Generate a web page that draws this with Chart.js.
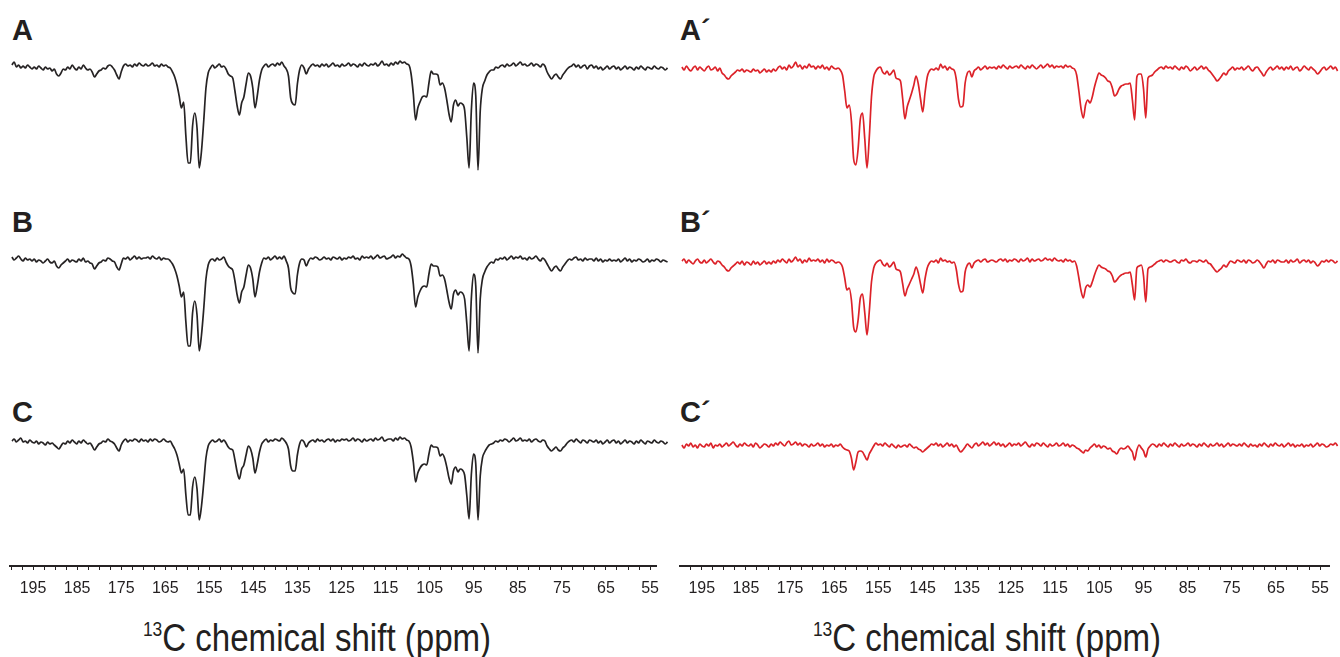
<!DOCTYPE html>
<html>
<head>
<meta charset="utf-8">
<script src="https://cdn.jsdelivr.net/npm/chart.js"></script>
<style>
html,body{margin:0;padding:0;background:#fff;}
body{width:1340px;height:657px;position:relative;overflow:hidden;}
canvas{position:absolute;}
.lbl{position:absolute;font-family:'Liberation Sans',Arial,sans-serif;font-weight:bold;font-size:29px;color:#231f20;line-height:1;}
.ttl{position:absolute;font-family:'Liberation Sans',Arial,sans-serif;font-size:38px;color:#231f20;line-height:1;white-space:nowrap;text-align:center;width:500px;transform:scaleX(0.87);transform-origin:50% 50%;}
.ttl sup{font-size:20px;vertical-align:0;position:relative;top:-15px;}
</style>
</head>
<body>
<div class="lbl" style="left:12px;top:16px">A</div>
<div class="lbl" style="left:12px;top:208px">B</div>
<div class="lbl" style="left:12px;top:398px">C</div>
<div class="lbl" style="left:680px;top:16px">A´</div>
<div class="lbl" style="left:680px;top:208px">B´</div>
<div class="lbl" style="left:680px;top:398px">C´</div>
<div class="ttl" style="left:67px;top:619px"><sup>13</sup>C chemical shift (ppm)</div>
<div class="ttl" style="left:737px;top:619px"><sup>13</sup>C chemical shift (ppm)</div>

<canvas id="cA" width="670" height="160" style="left:0;top:26px"></canvas>
<canvas id="cB" width="670" height="160" style="left:0;top:219px"></canvas>
<canvas id="cC" width="670" height="160" style="left:0;top:401px"></canvas>
<canvas id="cA2" width="670" height="160" style="left:670px;top:29px"></canvas>
<canvas id="cB2" width="670" height="160" style="left:670px;top:222px"></canvas>
<canvas id="cC2" width="670" height="160" style="left:670px;top:406px"></canvas>
<canvas id="axL" width="670" height="60" style="left:0;top:536px"></canvas>
<canvas id="axR" width="670" height="60" style="left:670px;top:536px"></canvas>

<script>
// chemical shift sampling (ppm)
const ppm = [
199.5,199,198.5,198,197.5,197,196.5,196,195.5,195,
194.5,194,193.5,193,192.5,192,191.5,191,190.5,190,
189.5,189,188.5,188,187.5,187,186.5,186,185.5,185,
184.5,184,183.5,183,182.5,182,181.5,181,180.5,180,
179.5,179,178.5,178,177.5,177,176.5,176,175.5,175,
174.5,174,173.5,173,172.5,172,171.5,171,170.5,170,
169.5,169,168.5,168,167.5,167,166.5,166,165.5,165,
164.5,164,163.5,163,162.5,162,161.5,161,160.5,160,
159.5,159,158.5,158,157.5,157,156.5,156,155.5,155,
154.5,154,153.5,153,152.5,152,151.5,151,150.5,150,
149.5,149,148.5,148,147.5,147,146.5,146,145.5,145,
144.5,144,143.5,143,142.5,142,141.5,141,140.5,140,
139.5,139,138.5,138,137.5,137,136.5,136,135.5,135,
134.5,134,133.5,133,132.5,132,131.5,131,130.5,130,
129.5,129,128.5,128,127.5,127,126.5,126,125.5,125,
124.5,124,123.5,123,122.5,122,121.5,121,120.5,120,
119.5,119,118.5,118,117.5,117,116.5,116,115.5,115,
114.5,114,113.5,113,112.5,112,111.5,111,110.5,110,
109.5,109,108.5,108,107.5,107,106.5,106,105.5,105,
104.5,104,103.5,103,102.5,102,101.5,101,100.5,100,
99.5,99,98.5,98,97.5,97,96.5,96,95.5,95,
94.5,94,93.5,93,92.5,92,91.5,91,90.5,90,
89.5,89,88.5,88,87.5,87,86.5,86,85.5,85,
84.5,84,83.5,83,82.5,82,81.5,81,80.5,80,
79.5,79,78.5,78,77.5,77,76.5,76,75.5,75,
74.5,74,73.5,73,72.5,72,71.5,71,70.5,70,
69.5,69,68.5,68,67.5,67,66.5,66,65.5,65,
64.5,64,63.5,63,62.5,62,61.5,61,60.5,60,
59.5,59,58.5,58,57.5,57,56.5,56,55.5,55,
54.5,54,53.5,53,52.5];

// spectrum A (intensity, arbitrary units, baseline 0)
const specA = [
1,4,-1,1,-2,0,-2,1,-1,-3,
-1,-3,0,-2,-4,-1,-3,-2,-5,-3,
-8,-10,-7,-3,-4,-1,-3,1,-2,-4,
-1,-3,1,-2,-4,-3,-6,-11,-8,-5,
-4,-2,-3,0,1,-1,-4,-9,-13,-6,
0,2,0,1,-1,2,0,3,1,0,
2,0,1,3,0,1,-1,2,0,1,
-1,-2,-6,-11,-19,-30,-42,-36,-70,-97,
-97,-60,-47,-62,-102,-85,-55,-22,-7,-2,
1,-2,0,2,-1,0,-3,-8,-10,-12,
-25,-40,-49,-37,-31,-18,-7,-10,-22,-42,
-30,-14,-4,0,2,-1,1,2,0,3,
1,4,0,-3,-10,-32,-38,-39,-18,-4,
1,-2,-8,-3,0,2,0,1,-1,2,
0,2,-1,1,3,0,1,-1,2,0,
1,3,0,2,1,-1,2,0,3,1,
0,2,1,3,0,2,5,1,2,0,
3,1,4,2,5,3,4,2,1,-8,
-28,-54,-42,-36,-31,-30,-31,-17,-5,-8,
-8,-9,-19,-17,-22,-34,-48,-56,-39,-34,
-40,-37,-38,-44,-72,-102,-45,-17,-30,-104,
-45,-22,-15,-9,-6,-4,-4,-1,-2,0,
1,-1,2,0,1,3,0,2,4,1,
2,0,1,3,0,2,1,-1,2,0,
-6,-10,-13,-10,-8,-11,-13,-9,-6,-3,
-1,0,2,-1,1,-2,0,1,-3,0,
1,-2,0,-3,-1,-4,-2,0,-3,-1,
0,-3,-1,-4,-2,0,-3,-1,-2,-4,
-1,-3,0,-2,-4,-1,-2,-3,0,-2,
-3,-1,-2,-4,-2];

const specB = [
2,-1,1,3,0,-2,1,-1,0,-2,
0,-3,-1,-2,-4,-2,0,-3,-4,-2,
-7,-9,-6,-4,-2,0,-3,-1,-2,-3,
0,-2,1,-3,-2,-4,-5,-10,-7,-4,
-3,-1,-2,1,0,-2,-3,-8,-11,-5,
1,0,2,-1,1,3,0,2,0,1,
1,2,0,3,1,0,2,-1,1,0,
0,-2,-5,-10,-17,-27,-38,-33,-63,-87,
-87,-54,-42,-56,-92,-76,-50,-20,-6,-1,
0,-2,1,-1,0,2,-3,-7,-9,-11,
-22,-36,-44,-33,-28,-16,-6,-9,-20,-38,
-27,-13,-4,1,0,2,-1,1,3,0,
2,0,3,-2,-9,-29,-34,-35,-16,-4,
0,-1,-7,-2,1,0,2,1,-1,0,
2,0,1,-1,2,1,0,2,-1,1,
0,2,1,3,0,1,-1,3,1,2,
1,3,0,2,4,1,2,3,0,1,
2,4,1,3,2,5,3,1,0,-7,
-25,-48,-38,-32,-28,-27,-28,-15,-5,-7,
-7,-8,-17,-16,-20,-31,-43,-50,-35,-31,
-36,-33,-34,-40,-65,-92,-40,-15,-27,-94,
-40,-20,-13,-8,-5,-3,-4,0,-1,1,
0,2,-1,1,3,0,2,1,3,0,
1,-1,2,0,1,3,0,-2,1,-1,
-5,-9,-12,-9,-7,-10,-12,-8,-5,-2,
0,-1,1,2,-1,0,-2,1,-1,0,
0,-2,1,-2,0,-3,-1,-2,0,-2,
-1,-2,0,-3,-1,1,-2,0,-3,-1,
-2,0,-1,-3,-2,0,-3,-1,-2,0,
-1,-3,-1,-2,-3];

const specC = [
0,2,-1,1,3,-1,0,-2,1,-1,
-2,0,-3,-1,-2,-4,-1,-3,-2,-4,
-6,-8,-5,-2,-3,0,-2,1,-1,-3,
0,-2,1,-1,-3,-2,-5,-9,-6,-3,
-2,0,-1,2,0,-1,-3,-7,-10,-4,
0,2,-1,1,0,2,1,-1,2,0,
1,-1,2,0,2,1,-1,0,2,0,
-1,0,-4,-8,-14,-23,-32,-28,-54,-74,
-74,-46,-36,-48,-79,-65,-42,-17,-5,-1,
1,-1,0,2,-1,1,-2,-6,-8,-9,
-19,-31,-38,-28,-24,-14,-5,-8,-17,-32,
-23,-11,-3,0,2,-1,1,0,2,1,
0,3,1,-2,-8,-25,-30,-30,-14,-3,
1,-1,-6,-2,0,1,-1,2,0,1,
-1,1,2,0,2,-1,1,0,2,1,
2,0,1,3,0,2,1,-1,2,0,
1,2,0,3,1,2,4,0,1,2,
2,0,3,1,4,2,3,1,0,-6,
-21,-41,-32,-27,-24,-23,-24,-13,-4,-6,
-6,-7,-15,-13,-17,-26,-37,-43,-30,-26,
-31,-28,-29,-34,-55,-78,-34,-13,-23,-79,
-35,-17,-11,-7,-4,-3,-2,0,-1,1,
0,2,1,-1,1,3,0,1,3,0,
1,0,2,-1,1,2,0,-1,1,0,
-5,-8,-10,-8,-6,-9,-10,-7,-5,-2,
0,1,-1,2,0,-2,1,0,-2,1,
0,-1,1,-2,0,-3,-1,1,-2,0,
1,-2,0,-3,-1,1,-2,0,-1,-3,
0,-2,1,-1,-3,0,-1,-2,1,-1,
-2,0,-1,-3,-1];

const specA2 = [
2,-1,3,0,-2,1,3,-1,2,0,
-2,1,3,-1,0,2,-2,1,-4,-6,
-9,-10,-7,-5,-3,-1,-2,0,-3,-1,
-2,-3,0,-2,-1,-4,-2,0,-3,-1,
-3,0,-2,1,3,0,2,-1,4,1,
3,7,2,4,0,3,1,5,2,3,
0,3,1,4,0,2,-1,3,1,0,
1,-1,-6,-22,-39,-36,-52,-90,-96,-80,
-50,-44,-70,-99,-69,-28,-8,-2,1,2,
-3,-5,-2,-6,-4,-1,-9,-10,-12,-30,
-50,-38,-31,-24,-16,-7,-15,-30,-43,-24,
-8,-2,0,-1,1,-1,5,1,3,-1,
2,0,-1,-10,-30,-38,-37,-14,-4,-2,
-8,-2,0,2,-1,1,3,0,2,1,
2,0,3,1,4,2,0,3,1,2,
3,1,4,2,0,3,1,4,2,0,
2,4,1,3,5,2,4,1,3,2,
3,1,4,2,3,1,0,-6,-22,-40,
-49,-36,-31,-34,-28,-18,-10,-4,-6,-7,
-9,-12,-13,-19,-27,-25,-20,-17,-16,-15,
-15,-14,-31,-51,-8,-5,-5,-20,-49,-9,
-7,-6,-3,-1,1,2,0,3,1,2,
0,3,1,-1,2,0,3,1,-2,0,
2,-1,1,3,0,2,-1,-3,-6,-9,
-12,-10,-7,-4,-6,-2,0,2,-1,1,
0,2,-1,1,3,0,-2,1,2,-1,
-4,-7,-3,0,2,-1,1,3,0,2,
-1,2,0,3,-1,1,2,-2,0,3,
1,-1,2,0,-2,-5,-3,0,2,-1,
1,3,0,2,-2];

const specB2 = [
1,3,-1,2,0,-2,1,3,0,-1,
2,-1,1,3,0,-2,1,0,-3,-5,
-8,-9,-6,-4,-2,0,-2,1,-3,0,
-1,-3,1,-2,0,-3,-1,1,-2,0,
-2,1,-1,2,0,3,1,-1,3,0,
2,5,1,3,-1,2,0,4,1,2,
1,3,0,2,-1,3,0,2,1,-1,
0,-1,-5,-16,-28,-26,-38,-65,-70,-58,
-36,-32,-51,-73,-50,-20,-6,-1,1,2,
-2,-4,-1,-5,-3,0,-7,-8,-10,-22,
-34,-27,-22,-17,-12,-5,-11,-22,-31,-17,
-6,-1,1,0,2,-1,4,1,2,0,
1,-1,0,-7,-22,-30,-29,-10,-3,-1,
-6,-1,1,2,0,2,3,0,1,2,
1,0,2,3,1,3,0,2,1,3,
2,0,3,1,2,4,0,3,1,2,
3,1,2,4,2,3,1,4,2,1,
2,0,3,1,2,0,1,-4,-16,-29,
-36,-26,-23,-25,-20,-13,-7,-3,-5,-6,
-7,-9,-10,-14,-20,-18,-15,-13,-12,-11,
-11,-10,-23,-38,-6,-4,-3,-14,-40,-7,
-5,-4,-2,0,1,2,0,2,1,0,
1,2,0,-1,2,1,3,0,-1,1,
1,0,2,1,0,2,-1,-2,-5,-8,
-10,-8,-6,-3,-5,-2,1,0,-1,2,
1,0,2,-1,2,1,-1,0,2,0,
-3,-6,-2,1,0,2,-1,2,1,0,
0,2,-1,2,0,1,3,-1,1,2,
0,2,-1,1,-1,-4,-2,1,0,2,
0,2,1,-1,1];

const specC2 = [
1,-2,2,0,3,-1,1,-2,2,0,
-1,2,0,3,-2,1,0,2,-1,1,
3,0,2,4,1,-1,2,0,3,1,
0,2,-1,3,1,-2,0,2,1,-1,
2,0,3,1,4,2,0,3,5,1,
2,4,1,3,0,2,1,-1,2,0,
1,3,0,2,-1,1,0,2,-1,1,
0,2,-1,-3,-4,-5,-12,-24,-16,-6,
-5,-6,-10,-14,-8,-4,0,3,1,2,
0,3,1,-1,2,0,-2,1,-1,0,
1,-1,2,0,-2,-1,-3,-4,-6,-4,
-2,0,2,1,3,0,2,-1,1,3,
0,2,-1,1,-3,-6,-4,-1,2,0,
-2,1,3,0,2,4,1,3,0,2,
4,1,3,0,2,-1,1,3,0,2,
1,3,0,2,4,1,-1,2,0,3,
2,0,3,1,-1,2,0,1,3,0,
1,3,0,2,-1,1,0,-2,-3,-5,
-7,-4,-5,-2,0,2,-1,1,-2,0,
-1,-3,-2,-5,-6,-8,-4,-2,-3,-2,
0,-3,-6,-14,-4,1,-2,-5,-11,-3,
0,2,1,-1,2,0,3,1,-1,2,
0,3,1,-1,2,0,1,3,0,2,
1,-1,2,0,3,1,-1,2,0,1,
3,0,2,-1,1,3,0,2,1,0,
2,0,3,1,-1,2,0,1,-1,2,
0,3,1,-1,2,0,3,1,0,2,
-1,1,3,0,2,-1,1,0,2,-1,
1,0,2,-1,1,3,0,2,1,-1,
0,2,1,3,0];

// axis ticks
const tickMarks = [200,197.5,195,192.5,190,187.5,185,182.5,180,177.5,175,172.5,170,167.5,165,162.5,160,157.5,155,152.5,150,147.5,145,142.5,140,137.5,135,132.5,130,127.5,125,122.5,120,117.5,115,112.5,110,107.5,105,102.5,100,97.5,95,92.5,90,87.5,85,82.5,80,77.5,75,72.5,70,67.5,65,62.5,60,57.5,55];
const tickLabels = [195,185,175,165,155,145,135,125,115,105,95,85,75,65,55];

const BLACK = '#262324';
const RED = '#dc2229';
const LEFT = {padL: 9, padR: 7, min: 53.52, max: 200.16};
const RIGHT = {padL: 10, padR: 4, min: 52.85, max: 199.93};

function spectrum(id, values, color, geo) {
  const pts = [];
  const n = Math.min(ppm.length, values.length);
  for (let i = 0; i < n; i++) pts.push({x: ppm[i], y: values[i]});
  new Chart(document.getElementById(id), {
    type: 'line',
    data: {datasets: [{data: pts, borderColor: color, borderWidth: 1.7, pointRadius: 0, cubicInterpolationMode: 'monotone', clip: false, fill: false, borderJoinStyle: 'round'}]},
    options: {
      responsive: false, animation: false, events: [],
      layout: {padding: {left: geo.padL, right: geo.padR, top: 0, bottom: 0}},
      plugins: {legend: {display: false}, tooltip: {enabled: false}},
      scales: {
        x: {type: 'linear', reverse: true, min: geo.min, max: geo.max, display: false},
        y: {type: 'linear', min: -120, max: 40, display: false}
      }
    }
  });
}

function axis(id, geo) {
  new Chart(document.getElementById(id), {
    type: 'line',
    data: {datasets: []},
    options: {
      responsive: false, animation: false, events: [],
      layout: {padding: {left: geo.padL, right: geo.padR, top: 0, bottom: 0}},
      plugins: {legend: {display: false}, tooltip: {enabled: false}},
      scales: {
        x: {
          type: 'linear', reverse: true, min: geo.min, max: geo.max, position: 'bottom',
          afterBuildTicks: (ax) => { ax.ticks = tickMarks.filter(v => v >= ax.min && v <= ax.max).map(v => ({value: v})); },
          border: {display: true, color: BLACK, width: 2},
          grid: {display: true, drawOnChartArea: false, drawTicks: true, tickLength: 4, color: BLACK, lineWidth: 1},
          ticks: {
            autoSkip: false, maxRotation: 0, minRotation: 0, padding: 11, color: '#231f20',
            font: {family: "'Liberation Sans',Arial,sans-serif", size: 16, lineHeight: 1},
            callback: (v) => tickLabels.includes(v) ? String(v) : ''
          }
        },
        y: {display: false, min: 0, max: 1}
      }
    }
  });
}

spectrum('cA', specA, BLACK, LEFT);
spectrum('cB', specB, BLACK, LEFT);
spectrum('cC', specC, BLACK, LEFT);
spectrum('cA2', specA2, RED, RIGHT);
spectrum('cB2', specB2, RED, RIGHT);
spectrum('cC2', specC2, RED, RIGHT);
axis('axL', LEFT);
axis('axR', RIGHT);
</script>
</body>
</html>
